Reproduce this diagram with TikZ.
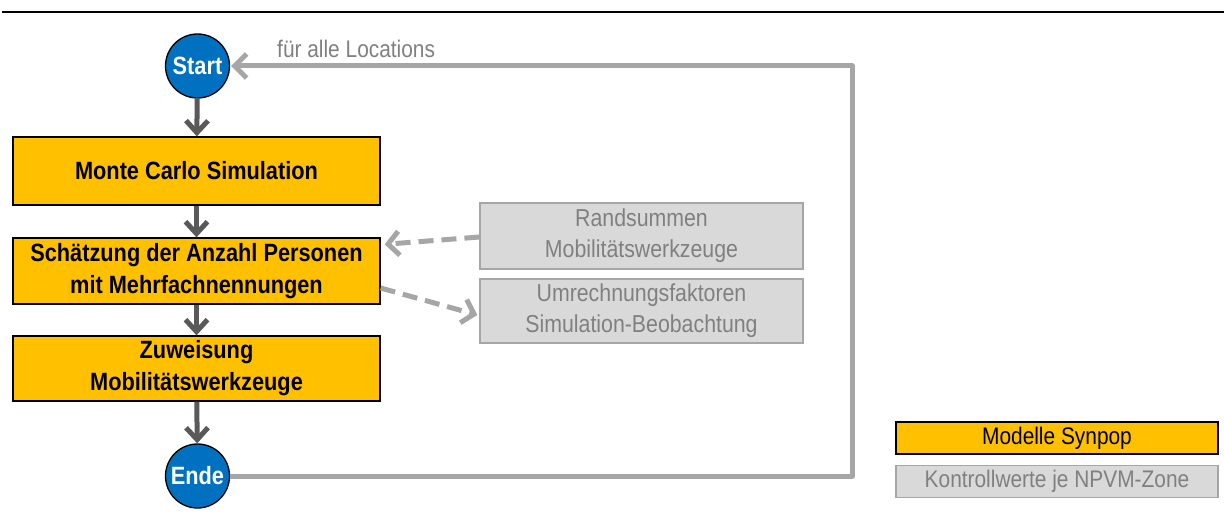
\documentclass[tikz,border=0pt]{standalone}
\usepackage{fontspec}
\setmainfont{Liberation Sans}[FakeStretch=0.87]
\usetikzlibrary{arrows.meta,calc}
\definecolor{cyellow}{HTML}{FFC000}
\definecolor{cblue}{HTML}{0070C0}
\definecolor{cdark}{HTML}{595959}
\definecolor{cgray}{HTML}{A6A6A6}
\definecolor{clight}{HTML}{D9D9D9}
\definecolor{ctext}{HTML}{808080}
\begin{document}
\begin{tikzpicture}[x=1pt,y=-1pt,
  procbox/.style={draw=black,line width=1.3pt,fill=cyellow,minimum width=367pt,inner sep=0pt,align=center,
    font=\fontsize{25}{32}\selectfont\bfseries,text=black},
  ctrlbox/.style={draw=cgray,line width=1.3pt,fill=clight,minimum width=323pt,inner sep=0pt,align=center,
    font=\fontsize{24.5}{31}\selectfont,text=ctext},
  endpt/.style={circle,draw=black,line width=1.3pt,fill=cblue,minimum size=64pt,inner sep=0pt,
    font=\fontsize{25}{24}\selectfont\bfseries,text=white},
  flow/.style={draw=cdark,line width=5pt,-{Straight Barb[length=12pt,width=22pt,line width=5pt]}},
  loop/.style={draw=cgray,line width=5pt},
  dep/.style={draw=cgray,line width=5pt,dash pattern=on 15pt off 8pt,-{Straight Barb[length=11pt,width=24pt,line width=5pt]}},
  legbox/.style={line width=1.3pt,minimum width=322pt,minimum height=32pt,inner sep=0pt,
    font=\fontsize{24}{24}\selectfont}
]
\useasboundingbox (0,0) rectangle (1224,519);
\draw[line width=2pt,black] (2,12) -- (1224,12);

\node[endpt] (start) at (197.5,66) {Start};
\node[procbox,minimum height=68pt] (b1) at (196.5,171) {Monte Carlo Simulation};
\node[procbox,minimum height=66pt] (b2) at (196.5,271) {Schätzung der Anzahl Personen\\mit Mehrfachnennungen};
\node[procbox,minimum height=65pt] (b3) at (196.5,368.5) {Zuweisung\\Mobilitätswerkzeuge};
\node[endpt] (ende) at (197.5,476) {Ende};

\node[ctrlbox,minimum height=66pt] (r1) at (641.5,236) {Randsummen\\Mobilitätswerkzeuge};
\node[ctrlbox,minimum height=64pt] (r2) at (641.5,311) {Umrechnungsfaktoren\\Simulation-Beobachtung};

\draw[flow] (start) -- (b1);
\draw[flow] (b1) -- (b2);
\draw[flow] (b2) -- (b3);
\draw[flow] (b3) -- (ende);

\coordinate (c1) at (852,476);
\coordinate (c2) at (852,66);
\draw[loop,line join=round] (ende.east) -- (c1) -- (c2) -- ([xshift=10pt]start.east);
\draw[draw=cgray,line width=5pt,-{Straight Barb[length=12pt,width=24pt,line width=5pt]}] ([xshift=12pt]start.east) -- ([xshift=1pt]start.east);
\node[anchor=base west,text=ctext,font=\fontsize{24}{24}\selectfont,inner sep=0pt] (lbl) at (277,58) {für alle Locations};

\draw[dep] ([yshift=-1pt]r1.west) -- ([xshift=4pt,yshift=-7pt]b2.north east);
\draw[dep] ([yshift=-17pt]b2.east) -- ([xshift=-2pt,yshift=-4pt]r2.west);

\node[legbox,draw=black,fill=cyellow,text=black] (l1) at (1057,438) {Modelle Synpop};
\node[legbox,draw=cgray,fill=clight,text=ctext] (l2) at (1057,481.5) {Kontrollwerte je NPVM-Zone};
\end{tikzpicture}
\end{document}
